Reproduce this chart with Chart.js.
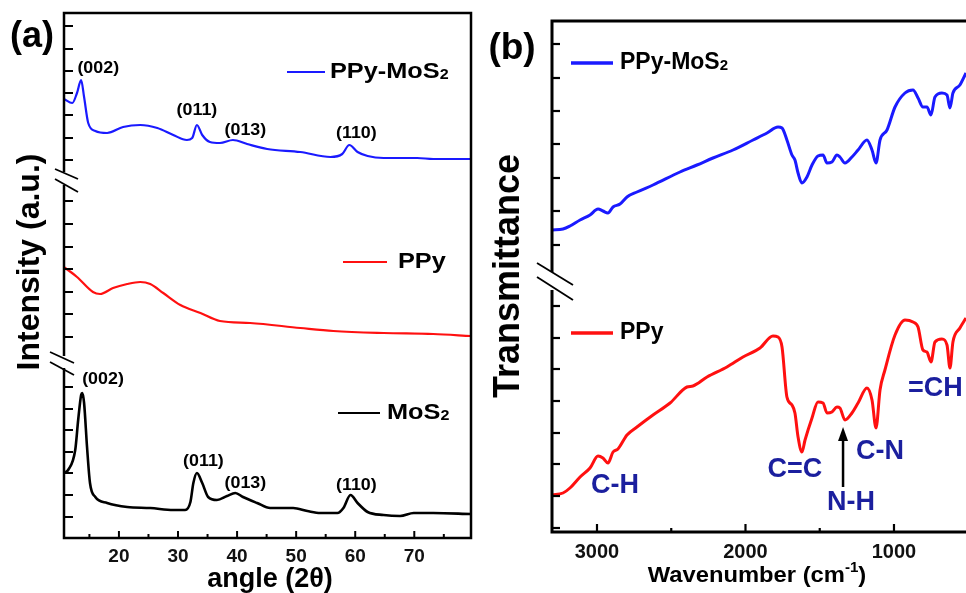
<!DOCTYPE html>
<html><head><meta charset="utf-8">
<script src="https://cdn.jsdelivr.net/npm/chart.js@4.4.0/dist/chart.umd.min.js"></script>
<style>
html,body{margin:0;padding:0;background:#fff;overflow:hidden}
#wrap{position:relative;width:966px;height:593px;background:#fff}
canvas{position:absolute;top:0}
#ca{left:0}
#cb{left:483px}
</style></head><body>
<div id="wrap"><canvas id="ca" width="483" height="593"></canvas><canvas id="cb" width="483" height="593"></canvas></div>
<script>
// ---------- Panel (a): XRD ----------
const angleBlue = [10.7,12.1,12.9,13.6,14.1,14.8,16.0,18.0,20.7,23.6,26.5,29.2,31.5,32.4,33.2,34.1,35.4,37.1,39.3,41.7,45.1,50.7,55.8,57.8,59.0,60.4,62.1,64.8,70.5,73.2,79.6];
const xrdPPyMoS2 = [439,435,445,458,441,415,407,405,411,413,410,403,398,400,413,403,396,395,398,394,389,386,381,384,393,386,382,380,380,379,379];
const angleRed = [10.7,12.9,15.6,16.8,19.0,21.4,23.6,25.3,27.5,30.4,33.8,37.1,42.2,50.7,56.3,64.8,73.2,79.6];
const xrdPPy = [271,261,246,244,250,254,256,254,245,233,225,217,215,210,207,205,204,202];
const angleBlack = [10.7,11.4,12.6,13.1,13.6,13.8,14.1,14.6,15.1,16.0,18.0,21.4,25.3,29.2,31.2,32.1,32.6,33.2,34.1,35.1,36.6,38.3,39.7,41.0,43.4,45.6,49.5,51.9,54.1,57.0,58.0,59.2,60.4,62.1,64.8,67.6,69.9,73.2,79.6];
const xrdMoS2 = [65,68,88,118,143,145,135,91,55,41,35,31,30,28,28,36,55,65,55,41,38,42,45,41,35,30,30,27,25,25,30,43,35,26,23,22,25,25,24];
const xTicksA = [15,20,25,30,35,40,45,50,55,60,65,70,75];
const yTicksA = [512,489,467,445,423,400,378,337,314,291,269,246,224,201,151,129,108,86,65,43,21];
const yBreaksA = [359,176];
const peakLabelsA = ['(002)','(011)','(013)','(110)'];
const peakAngleBlue = [16.5,33.2,41.4,60.2];
const peakYBlue = [470,428,408,405];
const peakAngleBlack = [17.3,34.3,41.4,60.2];
const peakYBlack = [159,77,55,53];

// ---------- Panel (b): FTIR ----------
const wnBlue = [3303,3229,3182,3114,3047,2993,2960,2926,2892,2845,2798,2731,2623,2441,2327,2219,2084,1949,1855,1781,1754,1721,1687,1667,1646,1620,1586,1552,1512,1478,1451,1418,1384,1364,1330,1283,1242,1182,1148,1121,1094,1047,993,926,872,838,805,778,751,724,677,643,623,603,556,515];
const ftirPPyMoS2 = [302,303,306,312,317,323,321,319,325,328,335,340,347,360,367,374,382,392,399,405,404,392,377,372,359,349,355,367,376,377,369,370,377,375,369,375,382,392,382,369,392,402,425,439,442,434,425,425,417,435,439,437,424,439,447,459];
const wnRed = [3303,3229,3182,3114,3047,2993,2960,2926,2892,2859,2798,2731,2623,2508,2394,2354,2259,2125,2017,1902,1815,1781,1754,1721,1687,1667,1646,1620,1599,1552,1512,1478,1451,1418,1384,1364,1330,1283,1242,1182,1148,1121,1094,1061,993,926,872,838,805,778,751,724,677,643,623,603,556,515];
const ftirPPy = [37,39,44,55,64,76,74,69,80,83,97,105,117,129,145,146,155,165,175,184,196,195,185,135,127,119,95,80,92,114,130,129,119,120,125,124,112,119,129,144,132,104,142,162,197,212,210,205,182,180,170,190,193,187,164,190,204,214];
const xTicksB = [1000,1500,2000,2500,3000];
const yTicksB = [488,454,421,388,354,321,287,226,194,163,131,99,68,36,4];
const yBreaksB = [251];
const bandLabels = ['C-H','C=C','N-H','C-N','=CH'];
const bandWn = [2879,1667,1290,1094,906];
const bandY = [46,62,29,80,143];
const arrowWn = 1343, arrowFromY = 45, arrowToY = 105;

const FAM = '"Liberation Sans", Arial, Helvetica, sans-serif';
const pts = (xs, ys) => xs.map((x,i)=>({x, y: ys[i]}));

function drawRich(ctx, parts, x, y, o){
  o = o || {};
  ctx.save();
  ctx.translate(x, y);
  if (o.rot) ctx.rotate(o.rot);
  ctx.scale(o.sx || 1, 1);
  ctx.fillStyle = o.color || '#000';
  ctx.textBaseline = 'middle';
  ctx.textAlign = 'left';
  let w = 0;
  parts.forEach(p => { ctx.font = 'bold ' + p.s + 'px ' + FAM; w += ctx.measureText(p.t).width; });
  let cx = o.align === 'center' ? -w/2 : 0;
  parts.forEach(p => { ctx.font = 'bold ' + p.s + 'px ' + FAM; ctx.fillText(p.t, cx, p.dy || 0); cx += ctx.measureText(p.t).width; });
  ctx.restore();
}
function seg(ctx, x1, y1, x2, y2){ ctx.beginPath(); ctx.moveTo(x1,y1); ctx.lineTo(x2,y2); ctx.stroke(); }
function drawBreak(ctx, ax, cy, lw, p){
  ctx.save();
  ctx.fillStyle = '#fff';
  ctx.fillRect(ax - 4, cy + p.g1, 8, p.g2 - p.g1);
  ctx.strokeStyle = '#000'; ctx.lineWidth = lw;
  seg(ctx, ax + p.x1, cy + p.u1, ax + p.x2, cy + p.u2);
  seg(ctx, ax + p.x1, cy + p.l1, ax + p.x2, cy + p.l2);
  ctx.restore();
}

const decorA = {
  id: 'decorA',
  afterDraw(chart){
    const {ctx, chartArea: a, scales: {x, y}} = chart;
    ctx.save();
    ctx.strokeStyle = '#000'; ctx.lineWidth = 2.5;
    ctx.strokeRect(a.left, a.top, a.right - a.left, a.bottom - a.top);
    ctx.lineWidth = 2;
    yTicksA.forEach(v => { const py = y.getPixelForValue(v); seg(ctx, a.left, py, a.left + 9, py); });
    xTicksA.forEach(v => { const px = x.getPixelForValue(v); seg(ctx, px, a.bottom, px, a.bottom - (v % 10 === 0 ? 7 : 4)); });
    yBreaksA.forEach((v, i) => {
      const cy = y.getPixelForValue(v);
      const p = i === 0 ? {g1:-7,g2:6,x1:-9,x2:14,u1:-10,u2:0,l1:0,l2:13} : {g1:-6,g2:6,x1:-14,x2:10,u1:-10,u2:1,l1:0,l2:13};
      drawBreak(ctx, a.left, cy, 1.8, p);
    });
    peakLabelsA.forEach((t, i) => {
      drawRich(ctx, [{t, s:17}], x.getPixelForValue(peakAngleBlue[i]), y.getPixelForValue(peakYBlue[i]), {align:'center', sx:1.05});
      drawRich(ctx, [{t, s:17}], x.getPixelForValue(peakAngleBlack[i]), y.getPixelForValue(peakYBlack[i]), {align:'center', sx:1.05});
    });
    // legends
    const legs = [
      {c:'#1a1aff', x1:287, x2:325, y:72, tx:330, parts:[{t:'PPy-MoS',s:22},{t:'2',s:14,dy:3}]},
      {c:'#ff1010', x1:343, x2:387, y:262, tx:398, parts:[{t:'PPy',s:22}]},
      {c:'#000', x1:338, x2:380, y:413, tx:387, parts:[{t:'MoS',s:22},{t:'2',s:14,dy:3}]}
    ];
    legs.forEach(l => {
      ctx.strokeStyle = l.c; ctx.lineWidth = 2.2; seg(ctx, l.x1, l.y, l.x2, l.y);
      drawRich(ctx, l.parts, l.tx, l.y, {sx:1.15});
    });
    drawRich(ctx, [{t:'(a)', s:36}], 32, 37, {align:'center'});
    drawRich(ctx, [{t:'Intensity (a.u.)', s:32}], 30, 262, {align:'center', rot:-Math.PI/2});
    drawRich(ctx, [{t:'angle (2θ)', s:27}], 270, 580, {align:'center'});
    ctx.restore();
  }
};

const decorB = {
  id: 'decorB',
  afterDraw(chart){
    const {ctx, chartArea: a, scales: {x, y}} = chart;
    ctx.save();
    ctx.strokeStyle = '#000'; ctx.lineWidth = 3;
    ctx.beginPath(); ctx.moveTo(a.right + 2, a.top); ctx.lineTo(a.left, a.top); ctx.lineTo(a.left, a.bottom); ctx.lineTo(a.right + 2, a.bottom); ctx.stroke();
    ctx.lineWidth = 2.2;
    yTicksB.forEach(v => { const py = y.getPixelForValue(v); seg(ctx, a.left, py, a.left + 8, py); });
    xTicksB.forEach(v => { const px = x.getPixelForValue(v); seg(ctx, px, a.bottom, px, a.bottom - (v % 1000 === 0 ? 8 : 4)); });
    yBreaksB.forEach(v => {
      const cy = y.getPixelForValue(v);
      drawBreak(ctx, a.left, cy, 1.8, {g1:-9,g2:9,x1:-15,x2:21,u1:-18,u2:4,l1:-4,l2:19});
    });
    bandLabels.forEach((t, i) => {
      drawRich(ctx, [{t, s:27}], x.getPixelForValue(bandWn[i]), y.getPixelForValue(bandY[i]), {align: i === 4 ? 'left' : 'center', color:'#1b1f9e'});
    });
    // arrow
    const ax = x.getPixelForValue(arrowWn), ay1 = y.getPixelForValue(arrowFromY), ay2 = y.getPixelForValue(arrowToY);
    ctx.strokeStyle = '#000'; ctx.fillStyle = '#000'; ctx.lineWidth = 2.5;
    seg(ctx, ax, ay1, ax, ay2 + 10);
    ctx.beginPath(); ctx.moveTo(ax, ay2); ctx.lineTo(ax - 5, ay2 + 14); ctx.lineTo(ax + 5, ay2 + 14); ctx.closePath(); ctx.fill();
    const legs = [
      {c:'#1a1aff', y:63, parts:[{t:'PPy-MoS',s:23},{t:'2',s:15,dy:3}]},
      {c:'#ff1010', y:333, parts:[{t:'PPy',s:23}]}
    ];
    legs.forEach(l => {
      ctx.strokeStyle = l.c; ctx.lineWidth = 3.5; seg(ctx, 88, l.y, 130, l.y);
      drawRich(ctx, l.parts, 137, l.y, {});
    });
    drawRich(ctx, [{t:'(b)', s:37}], 29, 49, {align:'center'});
    drawRich(ctx, [{t:'Transmittance', s:36}], 26, 276, {align:'center', rot:-Math.PI/2});
    drawRich(ctx, [{t:'Wavenumber (cm', s:22},{t:'-1', s:14, dy:-8},{t:')', s:22}], 274, 576, {align:'center', sx:1.08});
    ctx.restore();
  }
};

const common = {
  responsive: false, animation: false, devicePixelRatio: 1,
  plugins: {legend: {display: false}, tooltip: {enabled: false}},
  elements: {point: {radius: 0}, line: {cubicInterpolationMode: 'monotone'}}
};

new Chart(document.getElementById('ca'), {
  type: 'line',
  data: {datasets: [
    {label: 'PPy-MoS2', data: pts(angleBlue, xrdPPyMoS2), borderColor: '#1a1aff', borderWidth: 2.2},
    {label: 'PPy', data: pts(angleRed, xrdPPy), borderColor: '#ff1010', borderWidth: 2.2},
    {label: 'MoS2', data: pts(angleBlack, xrdMoS2), borderColor: '#000', borderWidth: 2.6}
  ]},
  options: Object.assign({}, common, {
    layout: {padding: {left: 0, right: 12, top: 13, bottom: 0}},
    scales: {
      x: {type: 'linear', min: 10.7, max: 79.6, grid: {display: false}, border: {display: false},
          afterBuildTicks: s => { s.ticks = xTicksA.map(v => ({value: v})); },
          afterFit: s => { s.height = 55; },
          ticks: {padding: -1, color: '#111', autoSkip: false, maxRotation: 0,
                  font: {family: FAM, size: 19, weight: 'bold'},
                  callback: v => (v % 10 === 0 ? String(v) : '')}},
      y: {type: 'linear', min: 0, max: 525, grid: {display: false}, border: {display: false},
          ticks: {display: false}, afterFit: s => { s.width = 64; }}
    }
  }),
  plugins: [decorA]
});

new Chart(document.getElementById('cb'), {
  type: 'line',
  data: {datasets: [
    {label: 'PPy-MoS2', data: pts(wnBlue, ftirPPyMoS2), borderColor: '#1a1aff', borderWidth: 3},
    {label: 'PPy', data: pts(wnRed, ftirPPy), borderColor: '#ff1010', borderWidth: 3}
  ]},
  options: Object.assign({}, common, {
    layout: {padding: {left: 0, right: 0, top: 21, bottom: 0}},
    scales: {
      x: {type: 'linear', reverse: true, min: 515, max: 3303, grid: {display: false}, border: {display: false},
          afterBuildTicks: s => { s.ticks = xTicksB.map(v => ({value: v})); },
          afterFit: s => { s.height = 61; },
          ticks: {padding: 0, color: '#111', autoSkip: false, maxRotation: 0,
                  font: {family: FAM, size: 20, weight: 'bold'},
                  callback: v => (v % 1000 === 0 ? String(v) : '')}},
      y: {type: 'linear', min: 0, max: 511, grid: {display: false}, border: {display: false},
          ticks: {display: false}, afterFit: s => { s.width = 69; }}
    }
  }),
  plugins: [decorB]
});
</script>
</body></html>
